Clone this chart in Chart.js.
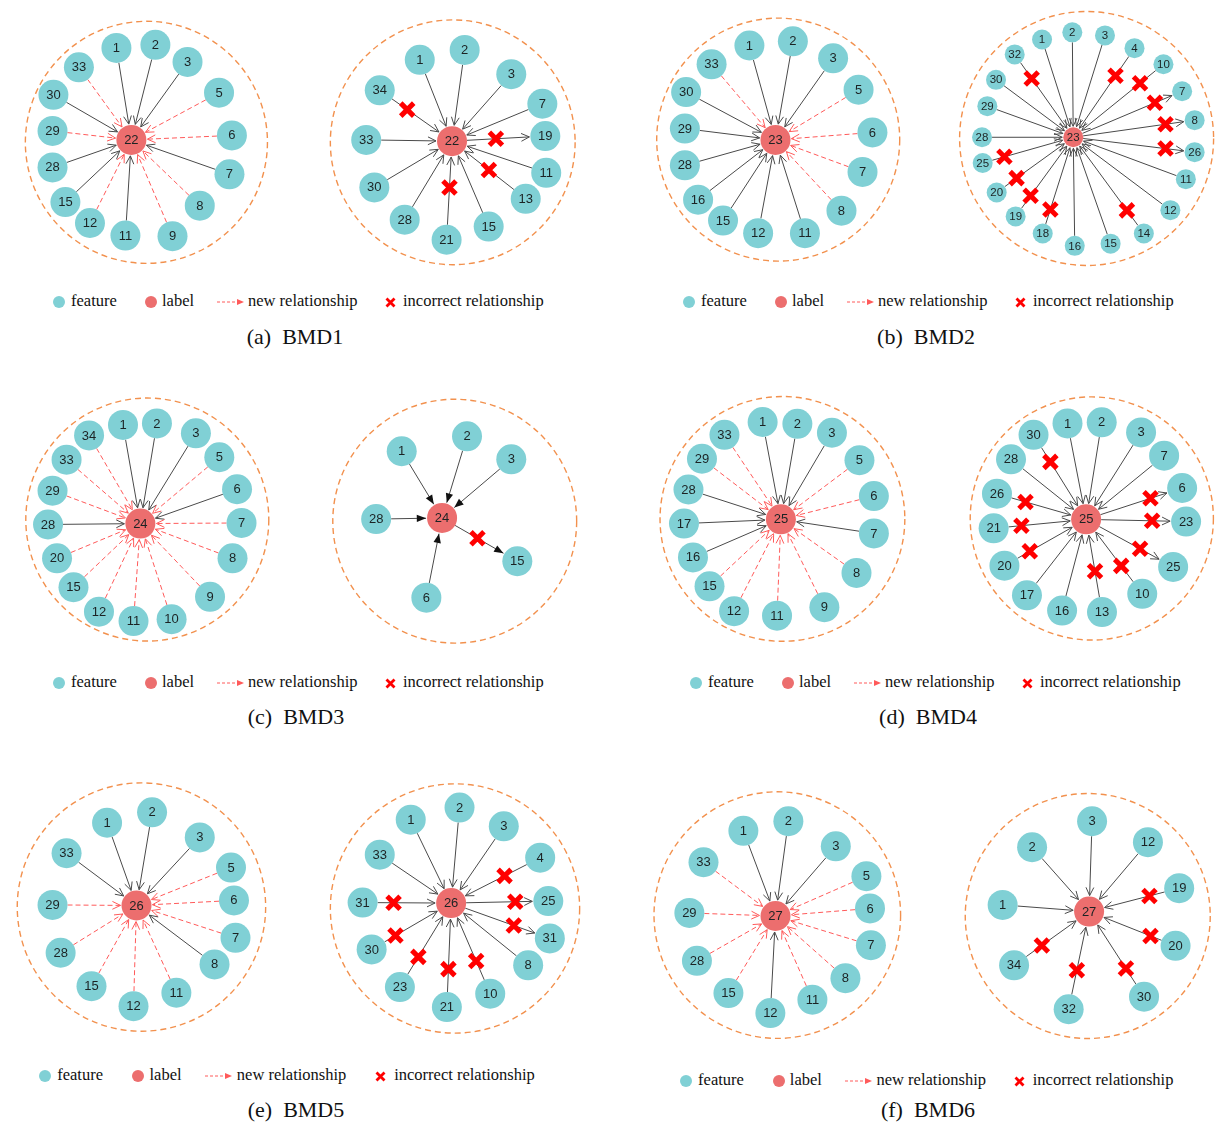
<!DOCTYPE html>
<html>
<head>
<meta charset="utf-8">
<script src="https://cdn.jsdelivr.net/npm/chart.js@4.4.1/dist/chart.umd.min.js"></script>
<style>
  html, body { margin: 0; padding: 0; background: #fff; }
  #page { position: relative; width: 1232px; height: 1128px; overflow: hidden; }
  canvas.panel { position: absolute; }
  .lg { position: absolute; font-family: "Liberation Serif", "Times New Roman", serif; font-size: 16.5px; line-height: 20px; color: #111; white-space: nowrap; }
  .dot { position: absolute; width: 12px; height: 12px; border-radius: 50%; }
  .mk { position: absolute; }
  .cap { position: absolute; width: 240px; text-align: center; font-family: "Liberation Serif", "Times New Roman", serif; font-size: 22px; line-height: 26px; color: #111; white-space: pre; }
</style>
</head>
<body>
<div id="page"></div>
<script>
// Each network: first row is the label node, the rest are feature nodes.
// [name, x, y, relation, crossAt]; relation: 'in' = feature -> label,
// 'new' = newly found feature -> label, 'out' = label -> feature.
// crossAt = fraction along the edge (from the feature side) of a red cross.
const bmd1Left = [
  ['22', 129.3, 139.3, 'hub'],
  ['1', 112.7, 36.7, 'in'], ['2', 156, 33.3, 'in'], ['3', 191.7, 52.3, 'in'],
  ['33', 71, 58.3, 'new'], ['5', 226.7, 86.7, 'new'], ['30', 42.7, 89, 'in'],
  ['29', 41.7, 129.3, 'new'], ['6', 241, 134.3, 'new'], ['28', 41.7, 170, 'in'],
  ['7', 238.3, 177.7, 'in'], ['15', 56, 208.7, 'in'], ['8', 205.3, 212.7, 'new'],
  ['12', 83.3, 232, 'new'], ['11', 122.7, 246, 'in'], ['9', 175, 246.7, 'new']
];
const bmd1Right = [
  ['22', 451.7, 140.7, 'hub'],
  ['1', 416, 50, 'in'], ['2', 465.7, 39, 'in'], ['3', 517.3, 66, 'in'],
  ['34', 371.7, 84, 'in', 0.38], ['7', 551.7, 99, 'in'], ['33', 356.7, 139.3, 'in'],
  ['19', 555, 135, 'out', 0.53], ['11', 556, 176, 'in'], ['30', 365.7, 192.3, 'in'],
  ['13', 533.3, 205, 'in', 0.5], ['28', 399.3, 228.3, 'in'], ['15', 492.3, 236, 'in'],
  ['21', 445.7, 250.7, 'in', 0.53]
];
const bmd2Left = [
  ['23', 775, 139.3, 'hub'],
  ['1', 746, 34, 'in'], ['2', 794.3, 29.3, 'in'], ['3', 839, 48.3, 'in'],
  ['33', 704, 55, 'new'], ['5', 867.3, 83.3, 'new'], ['30', 675.7, 86, 'in'],
  ['29', 674.3, 126.7, 'in'], ['6', 882.7, 131, 'new'], ['28', 674.3, 167.7, 'in'],
  ['7', 871.7, 175, 'new'], ['16', 689, 206, 'in'], ['8', 848.3, 218.3, 'new'],
  ['15', 716.7, 229.3, 'in'], ['12', 755.7, 243.3, 'in'], ['11', 807.7, 243.3, 'in']
];
const bmd2Right = [
  ['23', 1072.7, 136.7, 'hub'],
  ['1', 1039.3, 31.7, 'in'], ['2', 1071.7, 24, 'in'], ['3', 1106.7, 27.3, 'in'],
  ['32', 1010, 47.7, 'in', 0.29], ['4', 1138.3, 41, 'in', 0.31], ['10', 1169.3, 58.3, 'in', 0.26],
  ['30', 990, 75, 'in'], ['7', 1189.3, 87.3, 'out', 0.25], ['29', 980.7, 103.3, 'in'],
  ['8', 1202.7, 118.3, 'out', 0.24], ['28', 975, 136.7, 'in'], ['26', 1202.7, 152.7, 'out', 0.24],
  ['25', 975.7, 164.3, 'in', 0.24], ['11', 1193.3, 181.7, 'in'], ['20', 990.7, 196, 'in', 0.26],
  ['12', 1176.7, 215, 'in'], ['19', 1011, 221.7, 'in', 0.26], ['14', 1148.3, 240, 'in', 0.24],
  ['18', 1040, 240, 'in', 0.25], ['16', 1074.3, 253.3, 'in'], ['15', 1112.7, 251, 'in']
];
const bmd3Left = [
  ['24', 139.3, 524, 'hub'],
  ['1', 120, 414, 'in'], ['2', 157.7, 412.3, 'in'], ['34', 82.3, 425.7, 'new'],
  ['3', 201, 423.3, 'in'], ['33', 57.3, 452.7, 'new'], ['5', 227, 450, 'new'],
  ['29', 41.7, 487.3, 'new'], ['6', 246.7, 485.7, 'in'], ['28', 36.7, 525, 'in'],
  ['7', 251.7, 523.3, 'new'], ['20', 46.7, 562.7, 'new'], ['8', 241.7, 562.7, 'new'],
  ['15', 65, 595, 'new'], ['9', 216.7, 605.7, 'new'], ['12', 93.3, 622.3, 'new'],
  ['11', 131.7, 632.7, 'new'], ['10', 174, 630.7, 'new']
];
const bmd3Right = [
  ['24', 440.7, 517.7, 'hub'],
  ['1', 396, 443.3, 'in'], ['2', 468.3, 426.7, 'in'], ['3', 517.3, 452.3, 'in'],
  ['28', 367.7, 519, 'in'], ['15', 524, 566, 'out', 0.53], ['6', 423.3, 606.7, 'in']
];
const bmd4Left = [
  ['25', 781, 519.3, 'hub'],
  ['1', 760.7, 410.7, 'in'], ['2', 799.3, 412.7, 'in'], ['33', 718.3, 425, 'new'],
  ['3', 837.7, 422.7, 'in'], ['29', 693.3, 451.7, 'new'], ['5', 868.3, 453.3, 'new'],
  ['28', 678.3, 486, 'in'], ['6', 884.3, 493.3, 'new'], ['17', 673.3, 524, 'in'],
  ['7', 884.3, 535, 'in'], ['16', 683.3, 561.7, 'in'], ['8', 865, 579, 'new'],
  ['15', 701.7, 594, 'new'], ['9', 829.3, 617.3, 'new'], ['12', 729, 621.7, 'new'],
  ['11', 776.7, 626.7, 'new']
];
const bmd4Right = [
  ['25', 1086.7, 519.3, 'hub'],
  ['1', 1066, 412.3, 'in'], ['2', 1104, 411, 'in'], ['30', 1028.3, 425, 'in', 0.32],
  ['3', 1147.7, 422.3, 'in'], ['28', 1003.3, 452.3, 'in'], ['7', 1173.3, 448.3, 'in'],
  ['26', 987.7, 490.7, 'in', 0.32], ['6', 1193.3, 484.3, 'out', 0.33], ['21', 984, 529.3, 'in', 0.3],
  ['23', 1197.7, 521.7, 'out', 0.34], ['20', 996, 571, 'in', 0.31], ['25', 1183.3, 572.3, 'out', 0.38],
  ['17', 1021, 604, 'in'], ['16', 1060, 621, 'in'], ['13', 1104.3, 622.7, 'in', 0.44],
  ['10', 1149, 602.3, 'in', 0.375]
];
const bmd5Left = [
  ['26', 135, 905, 'hub'],
  ['1', 102.3, 812.7, 'in'], ['2', 152.3, 801, 'in'], ['3', 205.3, 829, 'in'],
  ['33', 57.3, 846.7, 'in'], ['5', 240, 862.7, 'new'], ['29', 41.7, 904.3, 'new'],
  ['6', 243.3, 899.3, 'new'], ['7', 245, 941, 'new'], ['28', 50.7, 957.7, 'new'],
  ['8', 221.7, 970.7, 'in'], ['15', 85, 995, 'new'], ['11', 179.3, 1002.3, 'new'],
  ['12', 131.7, 1017.3, 'new']
];
const bmd5Right = [
  ['26', 450.7, 902.3, 'hub'],
  ['1', 406, 809.3, 'in'], ['2', 460, 795.7, 'in'], ['3', 509, 816.7, 'in'],
  ['33', 371.7, 848.3, 'in'], ['4', 549.3, 851.7, 'in', 0.4], ['31', 352.7, 901.7, 'in', 0.35],
  ['25', 558.3, 900, 'out', 0.34], ['30', 362.7, 954, 'in', 0.3], ['31', 560, 941.7, 'out', 0.365],
  ['8', 536, 971.7, 'in'], ['23', 394, 996, 'in', 0.36], ['10', 494, 1003.3, 'in', 0.36],
  ['21', 446, 1018.3, 'in', 0.365]
];
const bmd6Left = [
  ['27', 775, 916.7, 'hub'],
  ['1', 739.3, 821.7, 'in'], ['2', 789.3, 811, 'in'], ['3', 842, 839, 'in'],
  ['33', 695, 856.7, 'new'], ['5', 876, 872.3, 'new'], ['29', 679.3, 913.3, 'new'],
  ['6', 880, 908.3, 'new'], ['7', 881, 949.3, 'new'], ['28', 687.7, 966.7, 'new'],
  ['8', 852.7, 986, 'new'], ['15', 722.7, 1002.7, 'new'], ['11', 816, 1010, 'new'],
  ['12', 769.3, 1025, 'in']
];
const bmd6Right = [
  ['27', 1090, 911.7, 'hub'],
  ['3', 1093.3, 811, 'in'], ['2', 1026.7, 840, 'in'], ['12', 1155.3, 834.3, 'in'],
  ['19', 1190, 885.7, 'in', 0.33], ['1', 994, 904.3, 'in'], ['20', 1186, 950, 'in', 0.29],
  ['34', 1006.7, 971.7, 'in', 0.37], ['30', 1151, 1006.7, 'in', 0.33], ['32', 1067.3, 1020.7, 'in', 0.4]
];

const captions = ['(a)  BMD1', '(b)  BMD2', '(c)  BMD3', '(d)  BMD4', '(e)  BMD5', '(f)  BMD6'];
const legendTexts = ['feature', 'label', 'new relationship', 'incorrect relationship'];

// ---- styling ----
const CYAN = '#80D0D5';
const HUB = '#EC6E6E';
const EDGE = '#4a4a4a';
const NEW_EDGE = '#FF5A5A';
const RING = '#F2914E';
const CROSS = '#FF0000';

// panel layout: rows, window [x0, x1, y0, y1], ring [cx, cy, r], node radius, filled heads
const panels = [
  [bmd1Left, [0, 300, 0, 290], [146, 142, 134.5], 15, false],
  [bmd1Right, [300, 610, 0, 290], [452.5, 142, 135.5], 15, false],
  [bmd2Left, [630, 930, 0, 290], [778, 139, 135], 15, false],
  [bmd2Right, [930, 1232, 0, 290], [1087, 138, 136], 10, false],
  [bmd3Left, [0, 300, 375, 665], [147, 519.5, 135], 15, false],
  [bmd3Right, [300, 610, 375, 665], [454.7, 521.3, 135], 15, true],
  [bmd4Left, [630, 930, 375, 665], [782.7, 518.8, 136], 15, false],
  [bmd4Right, [930, 1232, 375, 665], [1093, 518.3, 135], 15, false],
  [bmd5Left, [0, 300, 765, 1055], [140.5, 906.7, 138], 15, false],
  [bmd5Right, [300, 610, 765, 1055], [455, 908.3, 138], 15, false],
  [bmd6Left, [630, 930, 765, 1055], [777, 915.7, 137], 15, false],
  [bmd6Right, [930, 1232, 765, 1055], [1088.5, 916.7, 136], 15, false]
];

function arrowHead(ctx, tx, ty, ux, uy, filled, color) {
  const len = filled ? 10 : 9, spread = filled ? 0.38 : 0.45;
  const a = Math.atan2(uy, ux);
  const p1 = [tx - len * Math.cos(a - spread), ty - len * Math.sin(a - spread)];
  const p2 = [tx - len * Math.cos(a + spread), ty - len * Math.sin(a + spread)];
  ctx.setLineDash([]);
  ctx.beginPath();
  ctx.moveTo(p1[0], p1[1]); ctx.lineTo(tx, ty); ctx.lineTo(p2[0], p2[1]);
  if (filled) { ctx.closePath(); ctx.fillStyle = '#111'; ctx.fill(); }
  else { ctx.strokeStyle = color; ctx.lineWidth = 1; ctx.stroke(); }
}

const graphPlugin = {
  id: 'graph',
  beforeDatasetsDraw(chart, args, o) {
    const { ctx } = chart, xs = chart.scales.x, ys = chart.scales.y;
    const X = v => xs.getPixelForValue(v), Y = v => ys.getPixelForValue(v);
    ctx.save();
    // dashed boundary ring
    const rr = Math.abs(X(o.ring[0] + o.ring[2]) - X(o.ring[0]));
    ctx.beginPath();
    ctx.arc(X(o.ring[0]), Y(o.ring[1]), rr, 0, Math.PI * 2);
    ctx.setLineDash([6, 4]); ctx.strokeStyle = RING; ctx.lineWidth = 1.4; ctx.stroke();
    // edges with arrowheads
    const hub = o.rows[0], hx = X(hub[1]), hy = Y(hub[2]);
    o.rows.slice(1).forEach(r => {
      const fx = X(r[1]), fy = Y(r[2]);
      const out = r[3] === 'out', isNew = r[3] === 'new';
      const sx = out ? hx : fx, sy = out ? hy : fy, ex = out ? fx : hx, ey = out ? fy : hy;
      const d = Math.hypot(ex - sx, ey - sy), ux = (ex - sx) / d, uy = (ey - sy) / d;
      const R = o.radius;
      const color = isNew ? NEW_EDGE : EDGE;
      ctx.strokeStyle = color; ctx.lineWidth = 1;
      ctx.setLineDash(isNew ? [5, 3] : []);
      ctx.beginPath();
      ctx.moveTo(sx + ux * R, sy + uy * R);
      ctx.lineTo(ex - ux * (R + 1), ey - uy * (R + 1));
      ctx.stroke();
      arrowHead(ctx, ex - ux * (R + 1), ey - uy * (R + 1), ux, uy, o.filled, color);
    });
    ctx.restore();
  },
  afterDatasetsDraw(chart, args, o) {
    const { ctx } = chart, xs = chart.scales.x, ys = chart.scales.y;
    const X = v => xs.getPixelForValue(v), Y = v => ys.getPixelForValue(v);
    ctx.save();
    const hub = o.rows[0], hx = X(hub[1]), hy = Y(hub[2]);
    // red crosses on incorrect relationships
    o.rows.slice(1).forEach(r => {
      if (r[4] == null) return;
      const fx = X(r[1]), fy = Y(r[2]);
      const cx = fx + (hx - fx) * r[4], cy = fy + (hy - fy) * r[4];
      const s = 6.5;
      ctx.strokeStyle = CROSS; ctx.lineWidth = 5; ctx.lineCap = 'butt'; ctx.setLineDash([]);
      ctx.beginPath();
      ctx.moveTo(cx - s, cy - s); ctx.lineTo(cx + s, cy + s);
      ctx.moveTo(cx + s, cy - s); ctx.lineTo(cx - s, cy + s);
      ctx.stroke();
    });
    // node names
    ctx.fillStyle = '#1c2324';
    ctx.textAlign = 'center'; ctx.textBaseline = 'middle';
    ctx.font = (o.radius > 12 ? 13 : 11.5) + 'px "Liberation Sans", Arial, sans-serif';
    o.rows.forEach(r => ctx.fillText(r[0], X(r[1]), Y(r[2]) + 0.5));
    ctx.restore();
  }
};

const page = document.getElementById('page');

panels.forEach(([rows, win, ring, radius, filled]) => {
  const cv = document.createElement('canvas');
  cv.className = 'panel';
  const w = win[1] - win[0], h = win[3] - win[2];
  cv.width = w; cv.height = h;
  cv.style.left = win[0] + 'px'; cv.style.top = win[2] + 'px';
  cv.style.width = w + 'px'; cv.style.height = h + 'px';
  page.appendChild(cv);
  new Chart(cv, {
    type: 'scatter',
    data: {
      datasets: [
        { data: rows.slice(1).map(r => ({ x: r[1], y: r[2] })), pointRadius: radius, pointHoverRadius: radius,
          pointBackgroundColor: CYAN, pointBorderWidth: 0, showLine: false },
        { data: [{ x: rows[0][1], y: rows[0][2] }], pointRadius: radius, pointHoverRadius: radius,
          pointBackgroundColor: HUB, pointBorderWidth: 0, showLine: false }
      ]
    },
    options: {
      responsive: false, animation: false, events: [],
      devicePixelRatio: 1,
      layout: { padding: 0 },
      scales: {
        x: { type: 'linear', min: win[0], max: win[1], display: false },
        y: { type: 'linear', min: win[2], max: win[3], reverse: true, display: false }
      },
      plugins: {
        legend: { display: false }, tooltip: { enabled: false },
        graph: { rows, ring, radius, filled }
      }
    },
    plugins: [graphPlugin]
  });
});

// legends under each pair: [first dot x, centre y, spacing factor]
const legendRows = [[59, 302, 1], [689, 302, 1], [59, 683, 1], [696, 683, 1], [45, 1076, 1.015], [686, 1081, 1.008]];
legendRows.forEach(([x0, y, s]) => {
  const add = html => page.insertAdjacentHTML('beforeend', html);
  const text = (off, t) => add(`<div class="lg" style="left:${x0 + off * s}px;top:${y - 11}px">${t}</div>`);
  add(`<div class="dot" style="left:${x0 - 6}px;top:${y - 6}px;background:${CYAN}"></div>`);
  text(12, legendTexts[0]);
  add(`<div class="dot" style="left:${x0 + 92 * s - 6}px;top:${y - 6}px;background:${HUB}"></div>`);
  text(103, legendTexts[1]);
  add(`<svg class="mk" width="28" height="10" style="left:${x0 + 158 * s}px;top:${y - 5}px">
        <line x1="0" y1="5" x2="21" y2="5" stroke="${NEW_EDGE}" stroke-width="1" stroke-dasharray="3,2"/>
        <path d="M20,2 L27,5 L20,8 Z" fill="${NEW_EDGE}"/></svg>`);
  text(189, legendTexts[2]);
  add(`<svg class="mk" width="11" height="11" style="left:${x0 + 331 * s - 5.5}px;top:${y - 5.5}px">
        <path d="M1.5,1.5 L9.5,9.5 M9.5,1.5 L1.5,9.5" stroke="${CROSS}" stroke-width="2.8"/></svg>`);
  text(344, legendTexts[3]);
});

// sub-figure captions
const capPos = [[295, 337], [926, 337], [296, 717], [928, 717], [296, 1110], [928, 1110]];
captions.forEach((c, i) => {
  page.insertAdjacentHTML('beforeend',
    `<div class="cap" style="left:${capPos[i][0] - 120}px;top:${capPos[i][1] - 13}px">${c}</div>`);
});
</script>
</body>
</html>
